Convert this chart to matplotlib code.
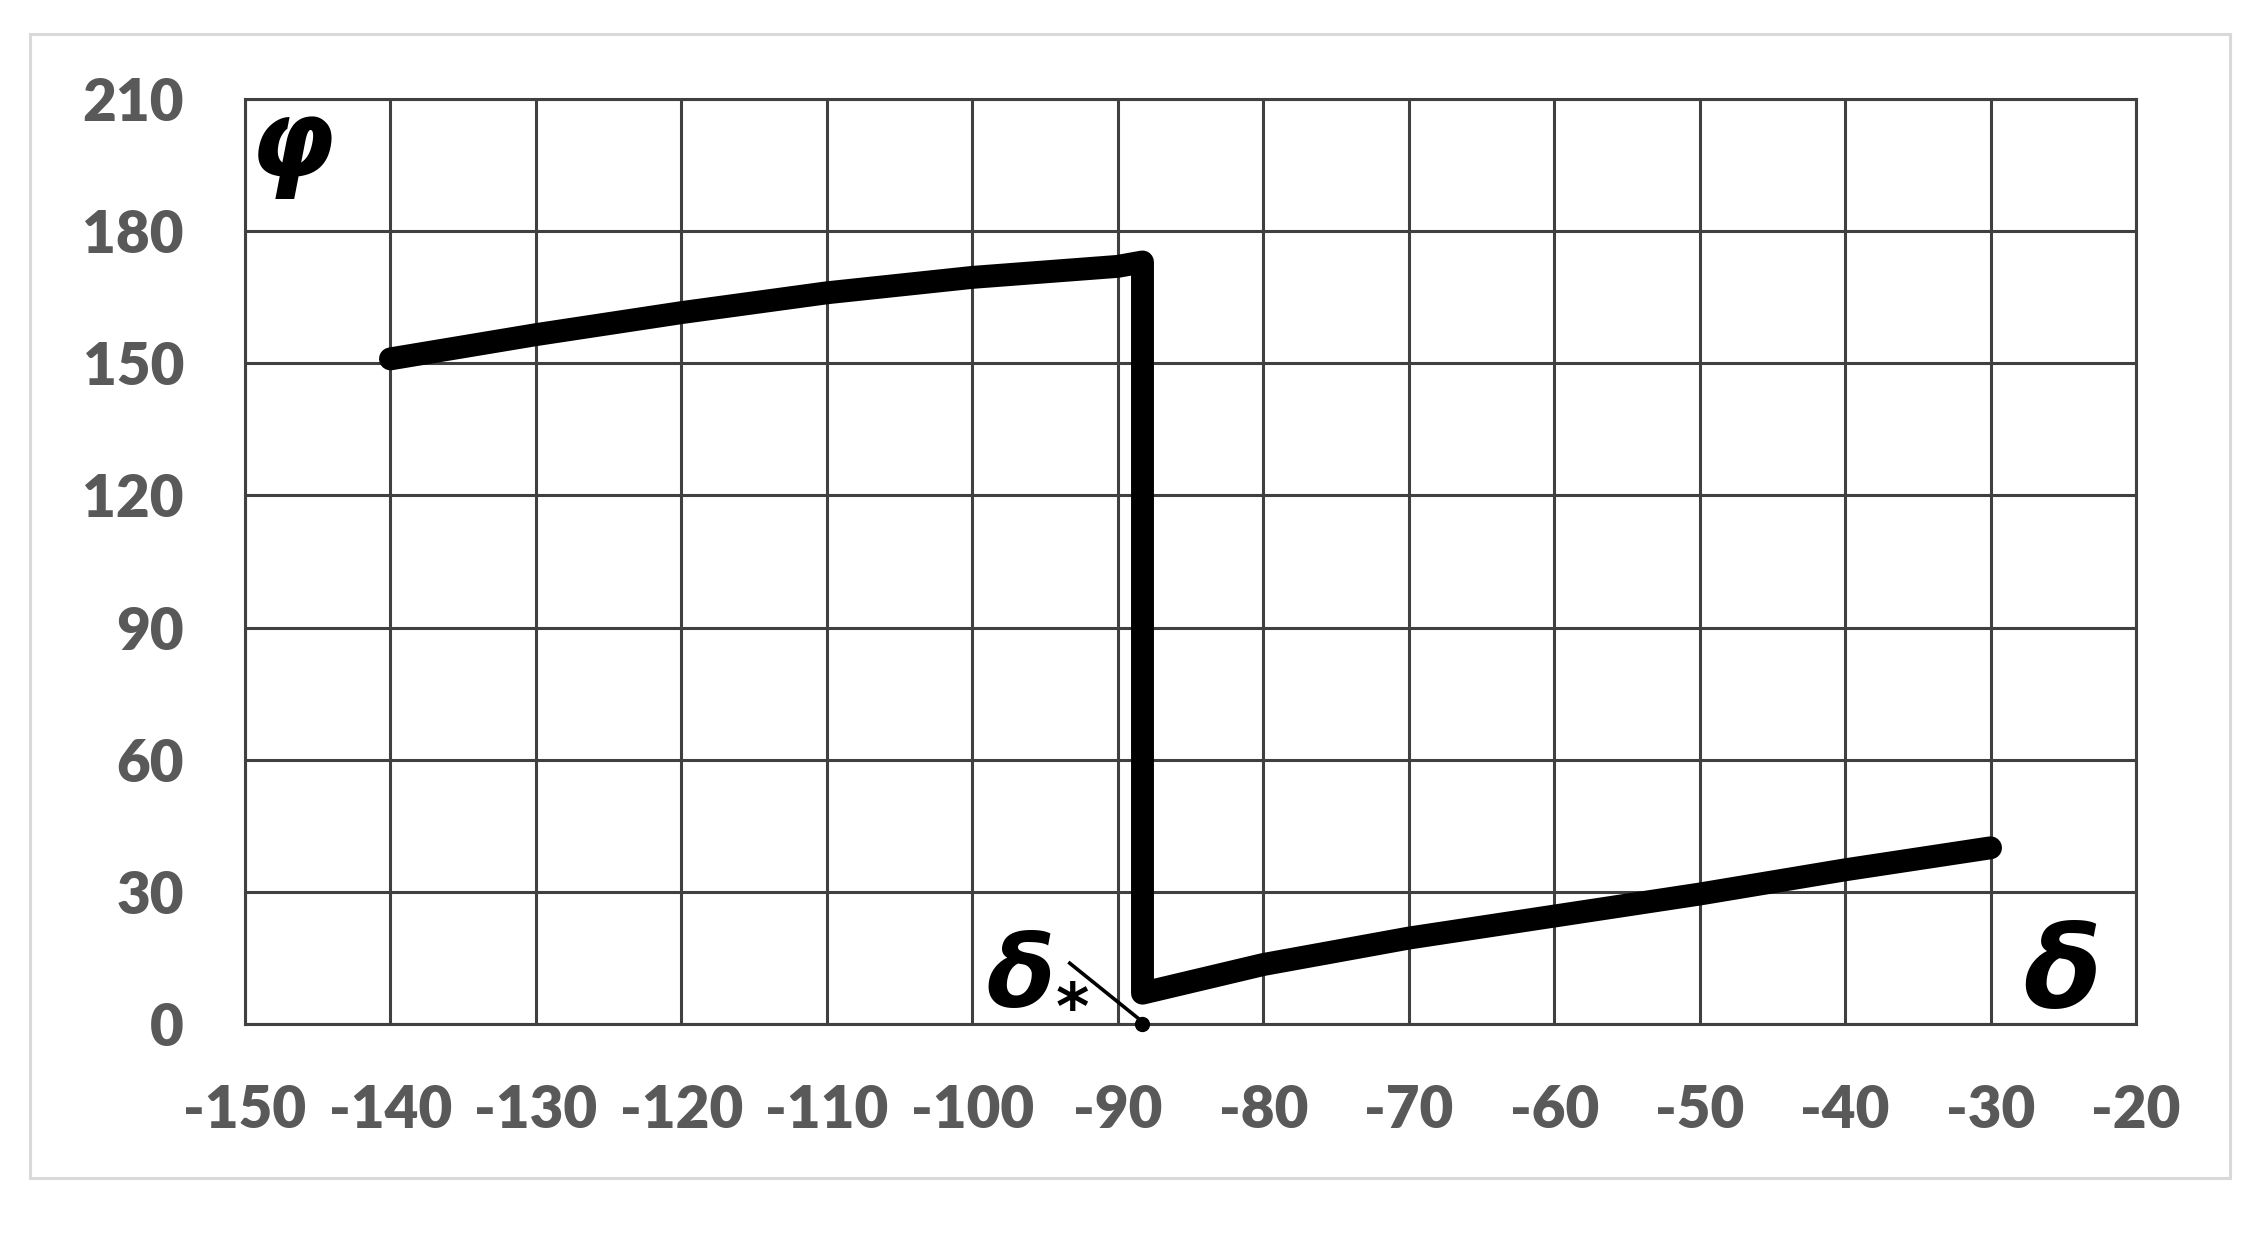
import matplotlib
matplotlib.use("Agg")
from matplotlib import pyplot as plt
from matplotlib.patches import Rectangle

plt.rcParams["axes.unicode_minus"] = False

# curve values
delta_upper = [-140, -130, -120, -110, -100, -90, -88.3]
phi_upper = [151, 156.5, 161.5, 166, 169.5, 172, 173]
delta_lower = [-88.3, -80, -70, -60, -50, -40, -30]
phi_lower = [7, 13.5, 19.5, 24.5, 29.5, 35, 40]
delta_star = -88.3

x_ticks = list(range(-150, -19, 10))
y_ticks = list(range(0, 211, 30))

GRID = "#404040"
LABEL = "#595959"

fig = plt.figure(figsize=(22.64, 12.33), dpi=100)
fig.patches.append(Rectangle((30 / 2264, 1 - 1178 / 1233), 2200 / 2264, 1144 / 1233,
                             transform=fig.transFigure, fill=False,
                             edgecolor="#d9d9d9", linewidth=2.2))

ax = fig.add_axes([245 / 2264, 1 - 1024 / 1233, (2136 - 245) / 2264, (1024 - 99) / 1233])
ax.set_xlim(-150, -20)
ax.set_ylim(0, 210)
ax.set_xticks(x_ticks)
ax.set_yticks(y_ticks)
ax.grid(True, color=GRID, linewidth=2.2)
ax.set_axisbelow(True)
for s in ax.spines.values():
    s.set_color(GRID)
    s.set_linewidth(2.2)

ax.tick_params(length=0, labelsize=42, labelcolor=LABEL)
ax.tick_params(axis="x", pad=43)
ax.tick_params(axis="y", pad=44)
for lab in ax.get_xticklabels() + ax.get_yticklabels():
    lab.set_fontfamily("Lato")
    lab.set_fontweight("heavy")

# whole curve: upper branch, jump down, lower branch
xs = delta_upper + delta_lower
ys = phi_upper + phi_lower
ax.plot(xs, ys, color="black", linewidth=16.5, solid_joinstyle="round",
        solid_capstyle="round", clip_on=False, zorder=3)

# delta* marker and leader
ax.plot([delta_star], [0], marker="o", color="black", markersize=10, clip_on=False, zorder=4)
ax.plot([-93.3, delta_star], [13.8, 0.5], color="black", linewidth=2.6, zorder=4)

greek = dict(family="DejaVu Sans", fontweight="bold", fontstyle="oblique", color="black")
ax.text(-149.7, 192.5, "φ", fontsize=78, va="baseline", ha="left", **greek)
ax.text(-22.4, 3.8, "δ", fontsize=82, va="baseline", ha="right", **greek)
ax.text(-94.3, 3.8, "δ", fontsize=72, va="baseline", ha="right", **greek)
ax.text(-93.1, 3.0, "*", fontsize=46, va="center", ha="center",
        family="DejaVu Sans", fontweight="bold", color="black")

fig.savefig("out.png", dpi=100, facecolor="white")
